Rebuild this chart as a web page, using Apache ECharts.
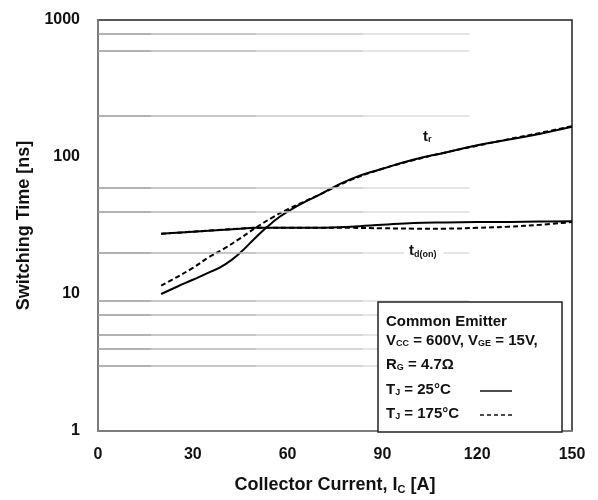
<!DOCTYPE html>
<html>
<head>
<meta charset="utf-8">
<script src="https://cdn.jsdelivr.net/npm/echarts@6/dist/echarts.min.js"></script>
<style>
  html, body { margin: 0; padding: 0; background: #fff; }
  #main { width: 598px; height: 500px; }
</style>
</head>
<body>
<div id="main"></div>
<script>
// collector current, A
var current = [20, 25, 30, 35, 40, 45, 50, 55, 60, 70, 80, 90, 100, 110, 120, 130, 140, 150];
// rise time tr [ns]
var tr25 = [10, 11.3, 12.7, 14.3, 16.3, 20, 26, 33, 40, 53, 69, 82, 96, 108, 122, 134, 148, 166];
var tr175 = [11.5, 13.3, 15.5, 18.5, 21.5, 25.5, 30.5, 36, 41.5, 53, 68, 82, 95, 108, 121, 135, 150, 168];
// turn-on delay td(on) [ns]
var td25 = [27.5, 28, 28.5, 29, 29.5, 30, 30.5, 30.5, 30.5, 30.5, 31, 32, 33, 33.3, 33.5, 33.6, 33.8, 34];
var td175 = [27.5, 28, 28.5, 29, 29.5, 30, 30.5, 30.5, 30.5, 30.5, 30.4, 30.2, 30, 30, 30.4, 31, 32, 33.5];
// the datasheet's odd grid rows
var gridRows = [3, 4, 5, 7, 9, 20, 40, 60, 200, 600, 800];
var gridEnd = 117.5;
var gridShades = [[0, 17, '#999'], [17, 50, '#b4b4b4'], [50, 84, '#c8c8c8'], [84, gridEnd, '#dcdcdc']];

function pairs(ys) {
  return current.map(function (x, i) { return [x, ys[i]]; });
}

var gridLines = [];
gridRows.forEach(function (v) {
  gridShades.forEach(function (s) {
    gridLines.push([
      { coord: [s[0], v], lineStyle: { color: s[2] } },
      { coord: [s[1], v] }
    ]);
  });
});

var font = 'Liberation Sans, Arial, sans-serif';
// rich styles for text with subscripts
function sub(size) {
  return {
    a: { fontFamily: font, fontWeight: 'bold', fontSize: size, fill: '#111', color: '#111' },
    s: { fontFamily: font, fontWeight: 'bold', fontSize: Math.round(size * 0.62), fill: '#111', color: '#111',
      padding: [Math.round(size * 0.45), 0, 0, 0] }
  };
}

var chart = echarts.init(document.getElementById('main'));

chart.setOption({
  animation: false,
  backgroundColor: '#fff',
  grid: { left: 98, right: 26, top: 20, bottom: 64, show: true, borderColor: '#222', borderWidth: 1.5 },
  xAxis: {
    type: 'value', min: 0, max: 150, interval: 30,
    name: '{a|Collector Current, I}{s|C}{a| [A]}',
    nameLocation: 'middle', nameGap: 45,
    nameTextStyle: { rich: sub(18) },
    axisLine: { lineStyle: { color: '#888', width: 1.5 } },
    axisTick: { show: false },
    splitLine: { show: false },
    axisLabel: { fontFamily: font, fontWeight: 'bold', fontSize: 16, color: '#111', margin: 16 }
  },
  yAxis: {
    type: 'log', logBase: 10, min: 1, max: 1000,
    name: 'Switching Time [ns]',
    nameLocation: 'middle', nameGap: 64,
    nameTextStyle: { fontFamily: font, fontWeight: 'bold', fontSize: 18, color: '#111' },
    axisLine: { lineStyle: { color: '#888', width: 1.5 } },
    axisTick: { show: false },
    minorTick: { show: false },
    splitLine: { show: false },
    axisLabel: { fontFamily: font, fontWeight: 'bold', fontSize: 16, color: '#111', margin: 18,
      formatter: function (v) { return String(v); } }
  },
  series: [
    {
      type: 'line', data: [], silent: true,
      markLine: { silent: true, symbol: 'none', label: { show: false },
        lineStyle: { type: 'solid', width: 1.5 }, data: gridLines }
    },
    { name: 'tr 25', type: 'line', data: pairs(tr25), smooth: 0.5, showSymbol: false,
      lineStyle: { color: '#000', width: 2 } },
    { name: 'tr 175', type: 'line', data: pairs(tr175), smooth: 0.4, showSymbol: false,
      lineStyle: { color: '#000', width: 2, type: [5, 3] } },
    { name: 'td 25', type: 'line', data: pairs(td25), smooth: 0.4, showSymbol: false,
      lineStyle: { color: '#000', width: 2 } },
    { name: 'td 175', type: 'line', data: pairs(td175), smooth: 0.4, showSymbol: false,
      lineStyle: { color: '#000', width: 2, type: [5, 3] } }
  ],
  graphic: [
    { type: 'text', left: 423, top: 129, z: 100,
      style: { text: '{a|t}{s|r}', rich: sub(15) } },
    { type: 'text', left: 404, top: 242, z: 100,
      style: { text: '{a|t}{s|d(on)}', backgroundColor: '#fff', padding: [1, 7, 1, 5], rich: sub(15) } },
    { type: 'rect', shape: { x: 378, y: 302, width: 184, height: 130 }, z: 100,
      style: { fill: '#fff', stroke: '#222', lineWidth: 1.5 } },
    { type: 'text', left: 386, top: 314, z: 101,
      style: { text: 'Common Emitter', font: 'bold 15px ' + font, fill: '#111' } },
    { type: 'text', left: 386, top: 333, z: 101,
      style: { text: '{a|V}{s|CC}{a| = 600V, V}{s|GE}{a| = 15V,}', rich: sub(15) } },
    { type: 'text', left: 386, top: 357, z: 101,
      style: { text: '{a|R}{s|G}{a| = 4.7Ω}', rich: sub(15) } },
    { type: 'text', left: 386, top: 382, z: 101,
      style: { text: '{a|T}{s|J}{a| = 25°C}', rich: sub(15) } },
    { type: 'text', left: 386, top: 406, z: 101,
      style: { text: '{a|T}{s|J}{a| = 175°C}', rich: sub(15) } },
    { type: 'line', shape: { x1: 480, y1: 391, x2: 512, y2: 391 }, z: 101,
      style: { stroke: '#111', lineWidth: 1.5 } },
    { type: 'line', shape: { x1: 480, y1: 415, x2: 513, y2: 415 }, z: 101,
      style: { stroke: '#111', lineWidth: 1.5, lineDash: [4, 3] } }
  ]
});
</script>
</body>
</html>
